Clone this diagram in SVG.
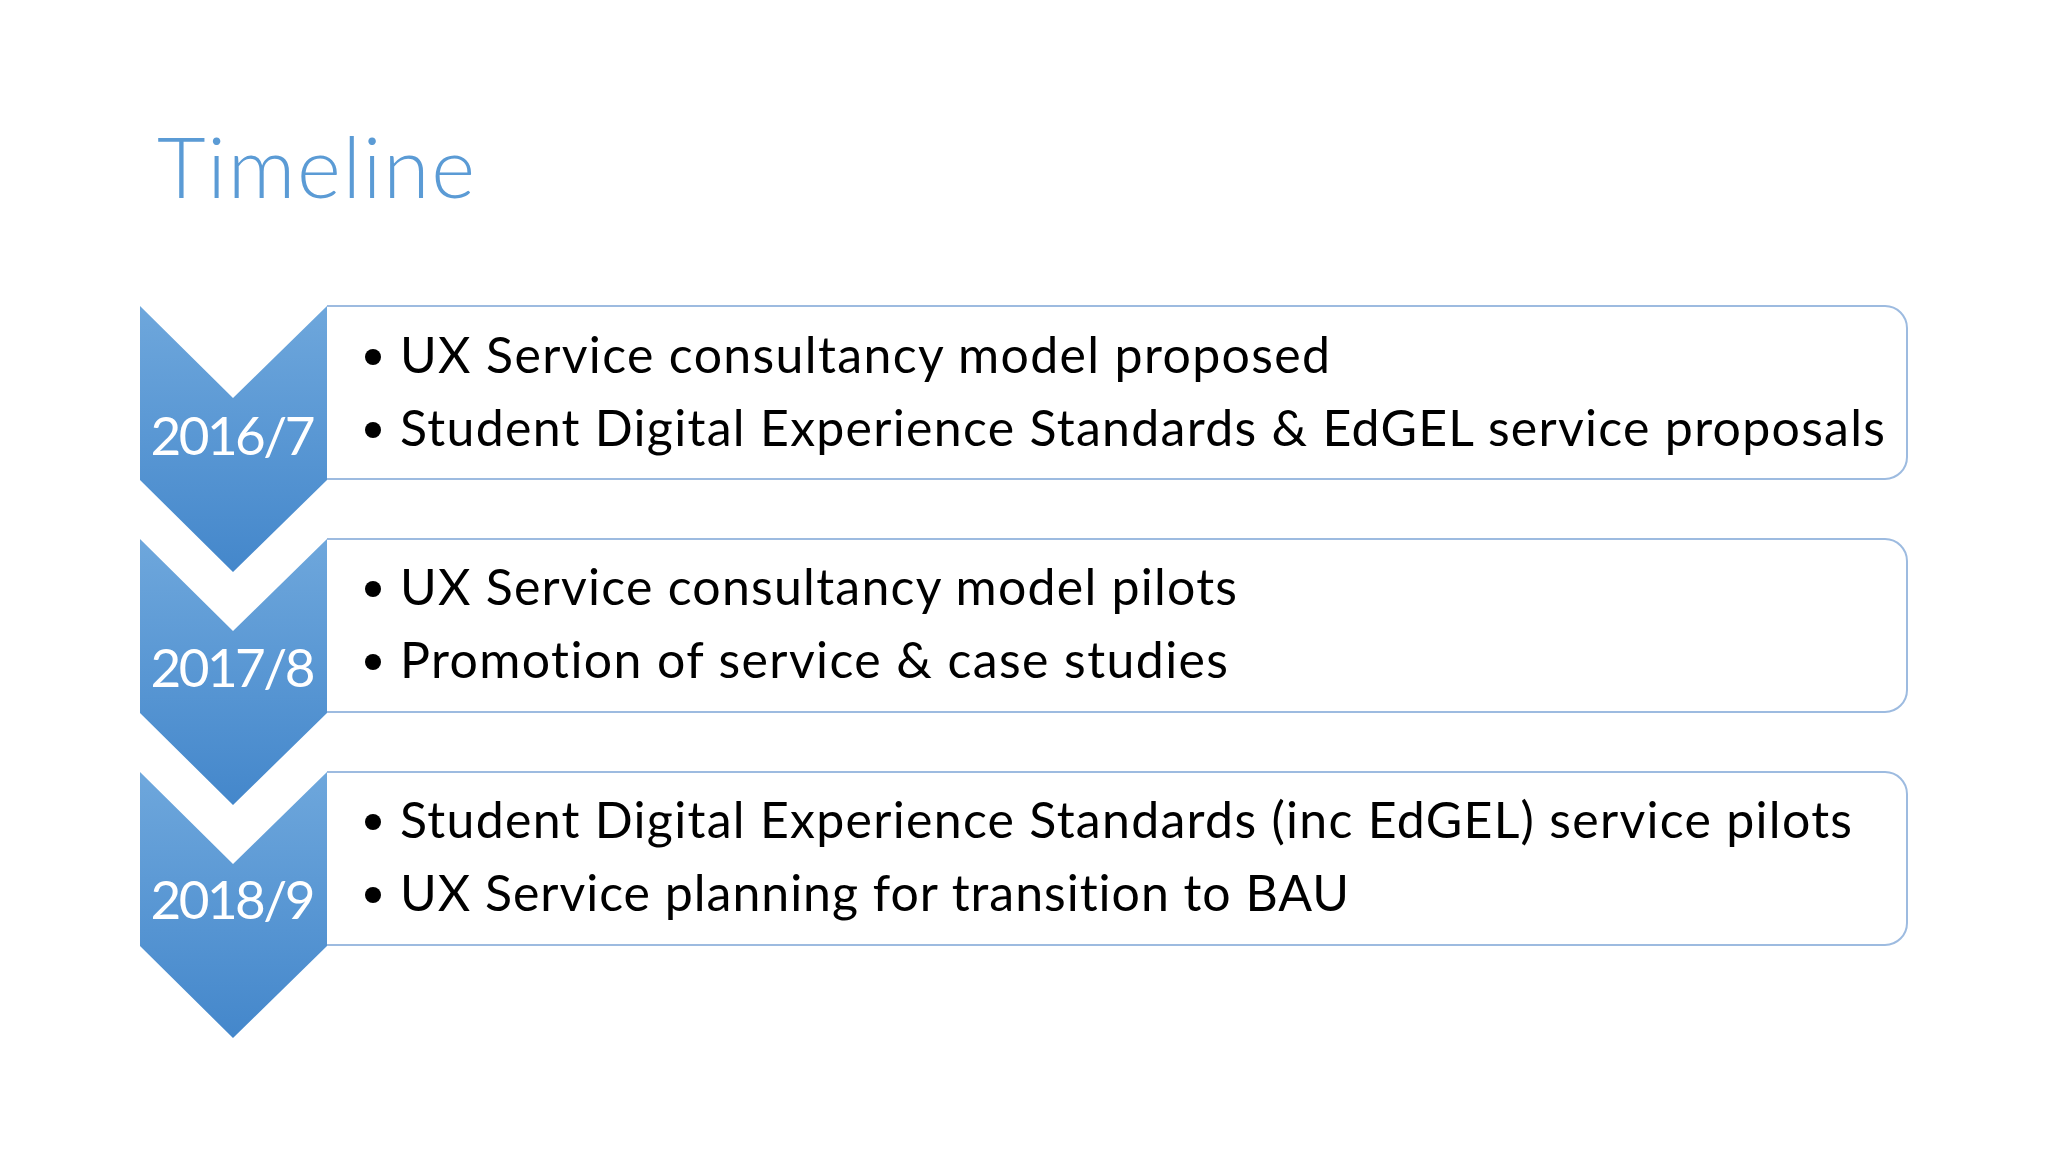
<svg xmlns="http://www.w3.org/2000/svg" width="2048" height="1152" viewBox="0 0 2048 1152">
<defs>
<linearGradient id="chev" x1="0" y1="0" x2="0" y2="1">
<stop offset="0" stop-color="#6ea7dc"/>
<stop offset="1" stop-color="#4487cb"/>
</linearGradient>
<style>
text{font-variant-ligatures:none;font-feature-settings:"liga" 0,"dlig" 0}
.box{fill:#ffffff;stroke:#9dbbe0;stroke-width:2}
.chev{fill:url(#chev)}
.year{font-family:Lato,"Open Sans",sans-serif;font-size:53px;fill:#ffffff;text-anchor:middle}
.item{font-family:Lato,"Open Sans",sans-serif;font-size:50px;fill:#000000}
.bul{fill:#000000}
.title{font-family:Lato,"Open Sans",sans-serif;font-weight:300;font-size:84px;fill:#5b9bd5}
</style>
</defs>
<rect width="2048" height="1152" fill="#ffffff"/>
<text class="title" x="157" y="198" textLength="318">Timeline</text>

<g id="step1">
<path class="box" d="M327,306 H1885 A22,22 0 0 1 1907,328 V457 A22,22 0 0 1 1885,479 H327"/>
<path class="chev" d="M140,306 L233,398 L327,306 L327,480 L233,572 L140,480 Z"/>
<text class="year" x="233" y="455" textLength="165">2016/7</text>
<circle class="bul" cx="373" cy="357" r="8"/>
<text class="item" x="400" y="373" textLength="930">UX Service consultancy model proposed</text>
<circle class="bul" cx="373" cy="430" r="8"/>
<text class="item" x="400" y="446" textLength="1485">Student Digital Experience Standards &amp; EdGEL service proposals</text>
</g>

<g id="step2">
<path class="box" d="M327,539 H1885 A22,22 0 0 1 1907,561 V690 A22,22 0 0 1 1885,712 H327"/>
<path class="chev" d="M140,539 L233,631 L327,539 L327,713 L233,805 L140,713 Z"/>
<text class="year" x="233" y="687" textLength="165">2017/8</text>
<circle class="bul" cx="373" cy="589" r="8"/>
<text class="item" x="400" y="605" textLength="837">UX Service consultancy model pilots</text>
<circle class="bul" cx="373" cy="662" r="8"/>
<text class="item" x="400" y="678" textLength="828">Promotion of service &amp; case studies</text>
</g>

<g id="step3">
<path class="box" d="M327,772 H1885 A22,22 0 0 1 1907,794 V923 A22,22 0 0 1 1885,945 H327"/>
<path class="chev" d="M140,772 L233,864 L327,772 L327,946 L233,1038 L140,946 Z"/>
<text class="year" x="233" y="919" textLength="165">2018/9</text>
<circle class="bul" cx="373" cy="822" r="8"/>
<text class="item" x="400" y="838" textLength="1452">Student Digital Experience Standards (inc EdGEL) service pilots</text>
<circle class="bul" cx="373" cy="895" r="8"/>
<text class="item" x="400" y="911" textLength="949">UX Service planning for transition to BAU</text>
</g>

<g id="connectors"></g>
</svg>
